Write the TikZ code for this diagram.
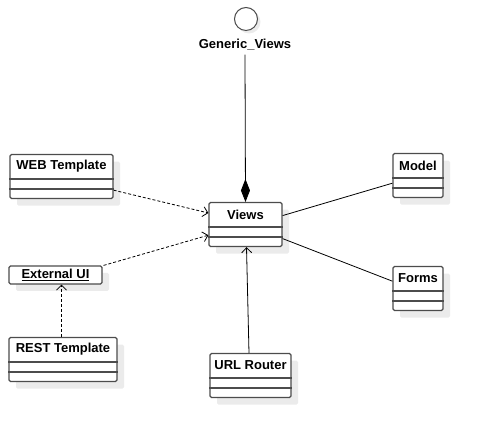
\documentclass[tikz,border=0pt]{standalone}
\usepackage{fontspec}
\setmainfont{Liberation Sans}
\usetikzlibrary{arrows.meta,shadows,calc}
\tikzset{
 cls/.style={draw=black!70, line width=1.2pt, rounded corners=1.5pt, fill=white, inner sep=0pt,
   drop shadow={shadow xshift=7pt, shadow yshift=-7pt, fill=black!8, opacity=1}},
 ttl/.style={font=\fontsize{13}{15}\selectfont\bfseries, inner sep=0pt},
 sepline/.style={draw=black!70, line width=1.2pt},
 dep/.style={dashed, dash pattern=on 3pt off 2pt, line width=0.8pt, -{Straight Barb[length=5pt,width=10pt]}},
 assoc/.style={line width=0.8pt},
}
\newcommand\umlcls[5]{%
 \node[cls, minimum width=#4, minimum height=44pt, anchor=north] (#1) at (#2,#3) {};
 \node[ttl] (#1-t) at ($(#1.north)+(0,-12.5)$) {#5};
 \draw[sepline] ($(#1.north west)+(0,-25)$) -- ($(#1.north east)+(0,-25)$);
 \draw[sepline] ($(#1.north west)+(0,-35)$) -- ($(#1.north east)+(0,-35)$);
}
\begin{document}
\begin{tikzpicture}[x=1pt,y=1pt]
\useasboundingbox (0,0) rectangle (483,438);
% interface
\node[circle, draw=black!70, line width=1pt, minimum size=23pt, inner sep=0pt, fill=white,
  drop shadow={shadow xshift=3pt, shadow yshift=-3pt, fill=black!8, opacity=1}] (gv) at (246,419) {};
\node[ttl] (gvt) at (245,393) {Generic\_Views};
% classes
\umlcls{web}{61.5}{284}{103pt}{WEB Template}
\umlcls{views}{245.5}{236}{73pt}{Views}
\umlcls{model}{418}{285}{50pt}{Model}
\umlcls{forms}{418}{172}{50pt}{Forms}
\umlcls{url}{250.5}{85}{81pt}{URL Router}
\umlcls{rest}{63}{101}{108pt}{REST Template}
\node[cls, minimum width=93pt, minimum height=18pt] (extui) at (55.5,163) {};
\node[ttl] (extui-t) at (extui.center) {\underline{External UI}};
% connectors
\draw[line width=0.8pt, -{Diamond[length=23pt,width=9pt]}] ($(gvt.south)+(0,-4)$) -- (views.north);
\draw[dep] ($(web.south east)+(0,9)$) -- ($(views.north west)+(0,-11)$);
\draw[dep] ($(extui.north east)+(1,0)$) -- ($(views.south west)+(0,12)$);
\draw[dep] ($(rest.north)+(-1.5,0)$) -- ($(extui.south)+(6,0)$);
\draw[line width=0.8pt, -{Straight Barb[length=5pt,width=10pt]}] ($(url.north)+(-1.5,0)$) -- ($(views.south)+(1,0)$);
\draw[assoc] ($(views.east)+(0,9)$) -- ($(model.south west)+(0,15)$);
\draw[assoc] ($(views.east)+(0,-14)$) -- ($(forms.south west)+(0,30)$);
\end{tikzpicture}
\end{document}
